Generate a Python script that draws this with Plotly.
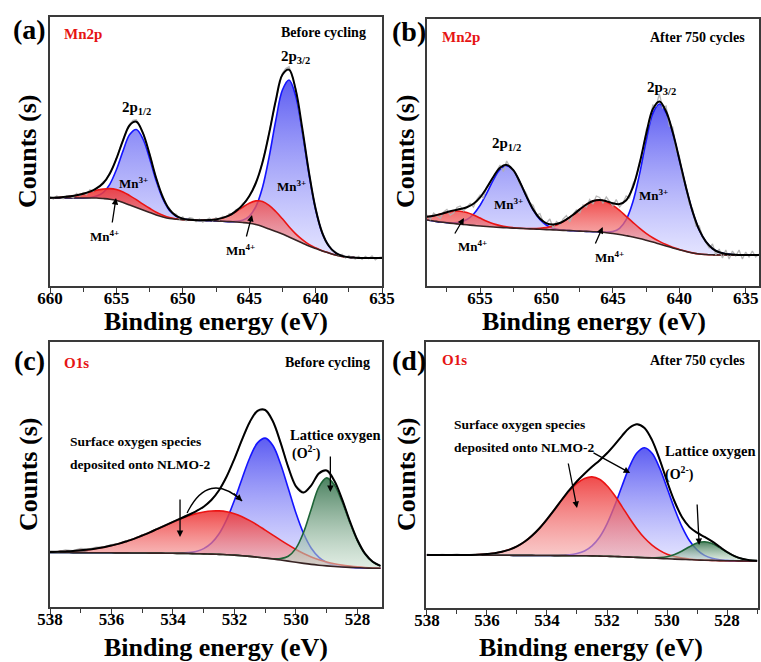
import plotly.graph_objects as go

FONT = "Liberation Serif"
FIG_W, FIG_H = 761, 662

# ---------------- Panel (a): Mn2p before cycling ----------------
E_A = [660.0, 659.5, 659.0, 658.5, 658.0, 657.5, 657.0, 656.5, 656.0, 655.5,
       655.0, 654.5, 654.0, 653.5, 653.0, 652.5, 652.0, 651.5, 651.0, 650.5,
       650.0, 649.5, 649.0, 648.5, 648.0, 647.5, 647.0, 646.5, 646.0, 645.5,
       645.0, 644.5, 644.0, 643.5, 643.0, 642.5, 642.0, 641.5, 641.0, 640.5,
       640.0, 639.5, 639.0, 638.5, 638.0, 637.5, 637.0, 636.5, 636.0, 635.5, 635.0]
BG_A = [88, 88, 88, 88, 88, 88, 88, 88, 87.5, 86.8, 85.5, 83.5, 81, 78.5, 76, 73.5,
        71, 69, 67.5, 66.7, 66.2, 66, 65.8, 65.5, 65.3, 65, 64.7, 64.4, 64, 63.5,
        62.8, 61.5, 59.5, 57, 54.5, 52, 49, 46, 43, 40, 37.5, 35, 33, 31, 29.5,
        28.7, 28.3, 28, 28, 28, 28]
MN3_A = [0, 0, 0, 0, 0, 0, 0.5, 1.9, 5.9, 14.9, 30.8, 51.6, 70.4, 78, 71, 54, 34,
         18, 8, 3, 1, 0.3, 0, 0, 0, 0, 0, 0, 0.6, 2.2, 6.9, 17.9, 39, 72, 111, 144,
         157, 144, 111, 72, 39, 17.9, 6.9, 2.2, 0.6, 0, 0, 0, 0, 0, 0]
MN4_A = [0.2, 0.5, 0.9, 1.7, 2.7, 4.2, 5.9, 7.8, 9.4, 10.6, 11, 10.6, 9.4, 7.8, 5.9,
         4.2, 2.7, 1.7, 0.9, 0.5, 0.2, 0.1, 0, 0.3, 0.7, 1.6, 3.4, 6.2, 10.3, 15.2,
         20, 23.6, 25, 23.6, 20, 15.2, 10.3, 6.2, 3.4, 1.6, 0.7, 0.3, 0.1, 0, 0, 0,
         0, 0, 0, 0, 0]
# raw spectrum, sampled every 0.25 eV from 660 to 635
E_RAW_A = [660.0, 659.75, 659.5, 659.25, 659.0, 658.75, 658.5, 658.25, 658.0, 657.75,
           657.5, 657.25, 657.0, 656.75, 656.5, 656.25, 656.0, 655.75, 655.5, 655.25,
           655.0, 654.75, 654.5, 654.25, 654.0, 653.75, 653.5, 653.25, 653.0, 652.75,
           652.5, 652.25, 652.0, 651.75, 651.5, 651.25, 651.0, 650.75, 650.5, 650.25,
           650.0, 649.75, 649.5, 649.25, 649.0, 648.75, 648.5, 648.25, 648.0, 647.75,
           647.5, 647.25, 647.0, 646.75, 646.5, 646.25, 646.0, 645.75, 645.5, 645.25,
           645.0, 644.75, 644.5, 644.25, 644.0, 643.75, 643.5, 643.25, 643.0, 642.75,
           642.5, 642.25, 642.0, 641.75, 641.5, 641.25, 641.0, 640.75, 640.5, 640.25,
           640.0, 639.75, 639.5, 639.25, 639.0, 638.75, 638.5, 638.25, 638.0, 637.75,
           637.5, 637.25, 637.0, 636.75, 636.5, 636.25, 636.0, 635.75, 635.5, 635.25, 635.0]
RAW_A = [89.5, 86.9, 90.1, 88.6, 87.2, 90.4, 89.8, 88.1, 92.6, 90.1,
         93.5, 91.4, 96.1, 94.8, 98.2, 100.3, 104.2, 106.1, 113.5, 119.0,
         128.6, 136.2, 146.6, 154.8, 161.9, 165.6, 166.2, 160.3, 153.6, 142.0,
         132.5, 119.1, 108.6, 96.7, 89.9, 80.8, 77.8, 71.6, 71.9, 67.2,
         69.1, 65.1, 68.3, 67.6, 64.4, 66.9, 63.9, 66.3, 67.9, 64.8,
         68.4, 66.0, 69.8, 68.0, 72.4, 71.3, 76.5, 76.9, 82.4, 84.2,
         90.6, 95.4, 104.1, 111.7, 124.5, 137.6, 153.8, 169.1, 186.6, 200.5,
         212.8, 217.4, 219.2, 209.6, 197.5, 177.4, 158.6, 134.8, 114.5, 93.6,
         78.4, 63.1, 54.6, 44.6, 41.4, 35.1, 34.5, 30.2, 31.6, 27.9,
         30.4, 28.1, 26.9, 29.6, 26.6, 29.7, 27.4, 30.1, 26.2, 28.5, 29.2]

# ---------------- Panel (b): Mn2p after 750 cycles ----------------
E_B = [659.0, 658.5, 658.0, 657.5, 657.0, 656.5, 656.0, 655.5, 655.0, 654.5,
       654.0, 653.5, 653.0, 652.5, 652.0, 651.5, 651.0, 650.5, 650.0, 649.5,
       649.0, 648.5, 648.0, 647.5, 647.0, 646.5, 646.0, 645.5, 645.0, 644.5,
       644.0, 643.5, 643.0, 642.5, 642.0, 641.5, 641.0, 640.5, 640.0, 639.5,
       639.0, 638.5, 638.0, 637.5, 637.0, 636.5, 636.0, 635.5, 635.0, 634.5, 634.0]
BG_B = [66, 65, 64, 63.2, 62.5, 61.8, 61.2, 60.6, 60, 59.5, 59, 58.6, 58.2, 57.9,
        57.6, 57.3, 57, 56.7, 56.4, 56.1, 55.8, 55.5, 55.2, 54.9, 54.6, 54.3, 54,
        53.3, 52.5, 51.5, 50.3, 49, 47.5, 45.8, 44, 42, 40, 38, 36.2, 34.5, 33, 32,
        31.5, 31.2, 31, 31, 31, 31, 31, 31, 31]
MN3_B = [0, 0, 0, 0.2, 0.8, 2.2, 5.3, 11.2, 20.7, 33.4, 47.1, 57.9, 62, 57.6, 46.1,
         31.9, 19, 9.8, 4.3, 1.7, 0.5, 0.2, 0, 0, 0, 0, 0.1, 0.6, 2, 6.2, 16, 34.9,
         64.1, 99, 128.4, 140, 133.3, 115.2, 90.2, 64.1, 41.3, 24.1, 12.8, 6.2, 2.7,
         1.1, 0.4, 0.1, 0, 0, 0]
MN4_B = [3.2, 5.3, 7.9, 10.4, 12.3, 13, 12.3, 10.4, 7.9, 5.3, 3.2, 1.8, 0.9, 0.4,
         0.1, 0.2, 0.4, 1, 2, 3.8, 6.7, 10.9, 16, 21.7, 26.9, 30.7, 32, 31, 28.2,
         24.2, 19.4, 14.7, 10.4, 6.9, 4.3, 2.6, 1.4, 0.7, 0.4, 0.2, 0.1, 0, 0, 0, 0,
         0, 0, 0, 0, 0, 0]
E_RAW_B = [659.0, 658.75, 658.5, 658.25, 658.0, 657.75, 657.5, 657.25, 657.0, 656.75,
           656.5, 656.25, 656.0, 655.75, 655.5, 655.25, 655.0, 654.75, 654.5, 654.25,
           654.0, 653.75, 653.5, 653.25, 653.0, 652.75, 652.5, 652.25, 652.0, 651.75,
           651.5, 651.25, 651.0, 650.75, 650.5, 650.25, 650.0, 649.75, 649.5, 649.25,
           649.0, 648.75, 648.5, 648.25, 648.0, 647.75, 647.5, 647.25, 647.0, 646.75,
           646.5, 646.25, 646.0, 645.75, 645.5, 645.25, 645.0, 644.75, 644.5, 644.25,
           644.0, 643.75, 643.5, 643.25, 643.0, 642.75, 642.5, 642.25, 642.0, 641.75,
           641.5, 641.25, 641.0, 640.75, 640.5, 640.25, 640.0, 639.75, 639.5, 639.25,
           639.0, 638.75, 638.5, 638.25, 638.0, 637.75, 637.5, 637.25, 637.0, 636.75,
           636.5, 636.25, 636.0, 635.75, 635.5, 635.25, 635.0, 634.75, 634.5, 634.25, 634.0]
RAW_B = [71, 66.5, 73, 70, 67.5, 74, 76.5, 71, 73, 78.5,
         80, 75, 79, 82.5, 79, 86.5, 91, 88, 99.5, 103,
         109, 115, 121, 114.5, 125, 119, 115.5, 111, 101, 97.5,
         92, 83, 80.5, 71, 72.5, 64, 63, 67, 58, 64.5,
         61.5, 67, 70.5, 64, 72, 76, 73, 81, 79, 86.5,
         82, 90, 88.5, 83, 89, 84, 80, 86.5, 79, 83,
         90, 88, 102, 108, 124, 134, 156, 163, 181, 180,
         192, 178, 180, 160, 159, 136, 130, 108, 101, 82,
         77, 60, 60, 49, 44, 38, 42, 31, 37, 28,
         36, 27, 35, 30, 36, 27, 34, 29, 35, 29, 32]

# ---------------- Panel (c): O1s before cycling ----------------
E_C = [538.0, 537.75, 537.5, 537.25, 537.0, 536.75, 536.5, 536.25, 536.0, 535.75,
       535.5, 535.25, 535.0, 534.75, 534.5, 534.25, 534.0, 533.75, 533.5, 533.25,
       533.0, 532.75, 532.5, 532.25, 532.0, 531.75, 531.5, 531.25, 531.0, 530.75,
       530.5, 530.25, 530.0, 529.75, 529.5, 529.25, 529.0, 528.75, 528.5, 528.25,
       528.0, 527.75, 527.5, 527.25]
BG_C = [54.5, 54.5, 54.5, 54.4, 54.4, 54.3, 54.3, 54.2, 54.2, 54.1, 54.1, 54, 54,
        53.9, 53.9, 53.8, 53.7, 53.6, 53.5, 53.3, 53.1, 52.9, 52.6, 52.3, 51.9, 51.3,
        50.6, 49.8, 48.9, 48, 47, 45.9, 44.7, 43.6, 42.6, 41.8, 41.1, 40.5, 40, 39.6,
        39.3, 39, 38.8, 38.7]
SURF1_C = [0.5, 0.8, 1.1, 1.6, 2.3, 3.1, 4.2, 5.6, 7.3, 9.3, 11.7, 14.4, 17.5, 20.8,
           24.3, 27.8, 31.3, 34.6, 37.6, 40.1, 41.9, 43.1, 43.5, 43.0, 41.4, 39.0,
           35.8, 32.1, 28.0, 23.9, 19.9, 16.2, 12.8, 9.9, 7.5, 5.5, 4.0, 2.8, 1.9,
           1.3, 0.8, 0.5, 0.3, 0.2]
SURF2_C = [0, 0, 0, 0, 0, 0, 0, 0, 0, 0, 0, 0, 0, 0, 0, 0, 0.1, 0.3, 0.9, 2.3, 5.3,
           11.0, 20.7, 35.4, 54.9, 77.3, 98.7, 114.3, 120, 113.5, 96.1, 72.8, 49.3,
           29.9, 16.2, 7.9, 3.4, 1.3, 0.5, 0.1, 0, 0, 0, 0]
LATT_C = [0, 0, 0, 0, 0, 0, 0, 0, 0, 0, 0, 0, 0, 0, 0, 0, 0, 0, 0, 0, 0, 0, 0, 0, 0,
          0, 0, 0, 0.1, 0.3, 1.4, 4.9, 13.9, 31.1, 55.4, 78.4, 88, 81.7, 65.5, 45.2,
          26.9, 13.8, 6.1, 2.3]
RAW_C = [56.2, 55, 57.1, 56.3, 58.6, 57.9, 59.8, 60.2, 62.4, 63.6, 66.5, 68.6, 72,
         74.8, 78.6, 81.7, 85.4, 88.6, 92.3, 95.8, 100.6, 107.2, 117, 130.5, 148.4,
         167.5, 185.3, 196, 197.2, 185.5, 164.6, 139.7, 120.9, 114.4, 121.9, 133.5,
         136.7, 126.2, 108.1, 86.1, 67.2, 53.2, 45.4, 41.3]

# ---------------- Panel (d): O1s after 750 cycles ----------------
E_D = [538.0, 537.75, 537.5, 537.25, 537.0, 536.75, 536.5, 536.25, 536.0, 535.75,
       535.5, 535.25, 535.0, 534.75, 534.5, 534.25, 534.0, 533.75, 533.5, 533.25,
       533.0, 532.75, 532.5, 532.25, 532.0, 531.75, 531.5, 531.25, 531.0, 530.75,
       530.5, 530.25, 530.0, 529.75, 529.5, 529.25, 529.0, 528.75, 528.5, 528.25,
       528.0, 527.75, 527.5, 527.25, 527.0]
BG_D = [53, 53, 53, 52.9, 52.9, 52.9, 52.8, 52.8, 52.8, 52.7, 52.7, 52.7, 52.6, 52.6,
        52.6, 52.5, 52.5, 52.4, 52.4, 52.3, 52.3, 52.2, 52.1, 51.9, 51.7, 51.5, 51.2,
        50.9, 50.6, 50.3, 50, 49.6, 49.2, 48.9, 48.6, 48.3, 48, 47.8, 47.6, 47.4,
        47.3, 47.2, 47.1, 47, 47]
SURF1_D = [0, 0, 0, 0, 0.1, 0.2, 0.3, 0.6, 1.1, 2, 3.5, 5.7, 9, 13.6, 19.7, 27.3,
           36.2, 45.9, 55.8, 65, 72.4, 77.3, 79, 76.8, 70.5, 61.2, 50.2, 38.9, 28.5,
           19.7, 12.9, 8, 4.6, 2.6, 1.3, 0.7, 0.3, 0.1, 0, 0, 0, 0, 0, 0, 0]
SURF2_D = [0, 0, 0, 0, 0, 0, 0, 0, 0, 0, 0, 0, 0, 0, 0, 0, 0, 0.1, 0.3, 0.8, 2.1,
           4.8, 10.1, 18.9, 32.5, 50.4, 70.8, 90.5, 104.7, 110, 104.7, 90.5, 70.8,
           50.4, 32.5, 18.9, 10.1, 4.8, 2.1, 0.8, 0.3, 0.1, 0, 0, 0]
LATT_D = [0, 0, 0, 0, 0, 0, 0, 0, 0, 0, 0, 0, 0, 0, 0, 0, 0, 0, 0, 0, 0, 0, 0, 0, 0,
          0, 0, 0, 0, 0.1, 0.3, 0.8, 2.1, 4.6, 8.4, 13, 16.9, 18.4, 16.9, 13, 8.4,
          4.6, 2.1, 0.8, 0.3]
RAW_D = [53.8, 52.6, 53.5, 53.2, 53.9, 52.9, 53.6, 53.2, 54.3, 54.5, 56.6, 58.2,
         61.9, 66, 72.6, 79.6, 88.9, 98.2, 108.7, 118, 127, 134.2, 141.4, 147.5,
         154.9, 163, 172.4, 180.2, 184, 180, 168.1, 148.8, 126.9, 106.4, 91, 80.8,
         75.5, 71, 66.8, 61.1, 56.2, 51.8, 49.4, 47.7, 47.6]

# ---------------- styles ----------------
STY = {
    "blue": ("rgb(20,20,255)", [[0, "rgba(205,205,255,0.55)"], [1, "rgba(70,70,240,0.88)"]]),
    "red": ("rgb(235,20,20)", [[0, "rgba(245,175,175,0.6)"], [1, "rgba(238,50,50,0.88)"]]),
    "green": ("rgb(30,100,55)", [[0, "rgba(200,222,205,0.55)"], [1, "rgba(55,115,78,0.9)"]]),
}

PANELS = [
    dict(k="", E=E_A, bg=BG_A, comps=[(MN3_A, "blue"), (MN4_A, "red")], rawE=E_RAW_A, raw=RAW_A,
         xd=(50, 382), yd=(17, 286), xr=(660, 635), yr=(0, 269), dt=5, mdt=2.5),
    dict(k="2", E=E_B, bg=BG_B, comps=[(MN3_B, "blue"), (MN4_B, "red")], rawE=E_RAW_B, raw=RAW_B,
         xd=(427, 759), yd=(19, 286), xr=(659, 634), yr=(0, 267), dt=5, mdt=2.5),
    dict(k="3", E=E_C, bg=BG_C, comps=[(SURF2_C, "blue"), (SURF1_C, "red"), (LATT_C, "green")],
         rawE=E_C, raw=RAW_C, xd=(50, 382), yd=(342, 607), xr=(538, 527.2), yr=(0, 265), dt=2, mdt=1),
    dict(k="4", E=E_D, bg=BG_D, comps=[(SURF2_D, "blue"), (SURF1_D, "red"), (LATT_D, "green")],
         rawE=E_D, raw=RAW_D, xd=(426, 758), yd=(342, 608), xr=(538.03, 526.97), yr=(0, 266), dt=2, mdt=1),
]

fig = go.Figure()
layout_axes = {}
for p in PANELS:
    n = len(p["E"])
    assert len(p["bg"]) == n, p["k"]
    assert len(p["raw"]) == len(p["rawE"]), p["k"]
    for c, _ in p["comps"]:
        assert len(c) == n, p["k"]
    xa, ya = "x" + p["k"], "y" + p["k"]
    common = dict(xaxis=xa, yaxis=ya, showlegend=False, hoverinfo="skip")
    for vals, st in p["comps"]:
        lc, cs = STY[st]
        top = [b + v for b, v in zip(p["bg"], vals)]
        fig.add_trace(go.Scatter(x=p["E"], y=p["bg"], mode="lines",
                                 line=dict(width=0, shape="spline"), **common))
        fig.add_trace(go.Scatter(x=p["E"], y=top, mode="lines",
                                 line=dict(color=lc, width=1.6, shape="spline"),
                                 fill="tonexty",
                                 fillgradient=dict(type="vertical", colorscale=cs),
                                 **common))
    fig.add_trace(go.Scatter(x=p["E"], y=p["bg"], mode="lines",
                             line=dict(color="rgb(55,35,35)", width=1.6, shape="spline"), **common))
    fig.add_trace(go.Scatter(x=p["rawE"], y=p["raw"], mode="lines",
                             line=dict(color="rgba(175,175,175,0.9)", width=1.3), **common))
    env = list(p["bg"])
    for vals, _ in p["comps"]:
        env = [e + v for e, v in zip(env, vals)]
    fig.add_trace(go.Scatter(x=p["E"], y=env, mode="lines",
                             line=dict(color="black", width=2, shape="spline"), **common))

    x0, x1 = p["xd"]
    y0, y1 = p["yd"]
    layout_axes["xaxis" + p["k"]] = dict(
        domain=[x0 / FIG_W, x1 / FIG_W], anchor=ya, range=list(p["xr"]),
        automargin=False,
        showline=True, mirror=True, linecolor="#3a3a3a", linewidth=1.5,
        ticks="outside", ticklen=5, tickwidth=1.3, tickcolor="#3a3a3a",
        tick0=0, dtick=p["dt"], showgrid=False, zeroline=False,
        ticklabelstandoff=-9,
        tickfont=dict(family=FONT, size=17, color="black", weight="bold"),
        minor=dict(tick0=0, dtick=p["mdt"], ticks="outside", ticklen=4,
                   tickwidth=1.3, tickcolor="#3a3a3a", showgrid=False),
    )
    layout_axes["yaxis" + p["k"]] = dict(
        domain=[1 - y1 / FIG_H, 1 - y0 / FIG_H], anchor=xa, range=list(p["yr"]),
        automargin=False,
        showline=True, mirror=True, linecolor="#3a3a3a", linewidth=1.5,
        showticklabels=False, ticks="", showgrid=False, zeroline=False,
    )

ann = []


def txt(s, x, y, ref="paper", size=14, color="black", xanchor="center", angle=0):
    xr, yr = ("paper", "paper") if ref == "paper" else ("x" + ref, "y" + ref)
    if ref == "paper":
        x, y = x / FIG_W, 1 - y / FIG_H
    ann.append(dict(text=s, x=x, y=y, xref=xr, yref=yr, showarrow=False,
                    xanchor=xanchor, yanchor="middle", textangle=angle,
                    font=dict(family=FONT, size=size, color=color, weight="bold")))


def arrow(k, head, tail):
    ann.append(dict(text="", x=head[0], y=head[1], ax=tail[0], ay=tail[1],
                    xref="x" + k, yref="y" + k, axref="x" + k, ayref="y" + k,
                    showarrow=True, arrowhead=2, arrowsize=1, arrowwidth=1.3,
                    arrowcolor="black", standoff=0, startstandoff=0))


for lab, (px, py) in zip(["(a)", "(b)", "(c)", "(d)"], [(29, 30), (409, 31), (29, 360), (409, 360)]):
    txt(lab, px, py, size=28)
for px, py in [(216, 321), (594, 321), (216, 647), (591, 647)]:
    txt("Binding energy (eV)", px, py, size=26)
for px, py in [(28, 152), (406, 152), (28, 475), (406, 475)]:
    txt("Counts (s)", px, py, size=26, angle=-90)

txt("Mn2p", 62, 34, size=15, color="rgb(230,20,20)", xanchor="left")
txt("Before cycling", 368, 33, size=14, xanchor="right")
txt("Mn2p", 440, 37, size=15, color="rgb(230,20,20)", xanchor="left")
txt("After 750 cycles", 747, 37, size=14, xanchor="right")
txt("O1s", 62, 363, size=15, color="rgb(230,20,20)", xanchor="left")
txt("Before cycling", 372, 362, size=14, xanchor="right")
txt("O1s", 440, 360, size=15, color="rgb(230,20,20)", xanchor="left")
txt("After 750 cycles", 747, 360, size=14, xanchor="right")

# panel (a)
txt("2p<sub>1/2</sub>", 653.45, 178, ref="", size=15)
txt("2p<sub>3/2</sub>", 641.55, 229, ref="", size=15)
txt("Mn<sup>3+</sup>", 653.75, 103, ref="", size=13)
txt("Mn<sup>3+</sup>", 641.85, 100, ref="", size=13)
txt("Mn<sup>4+</sup>", 655.86, 50, ref="", size=13)
txt("Mn<sup>4+</sup>", 645.69, 36, ref="", size=13)
arrow("", (655.03, 88), (655.33, 62))
arrow("", (644.79, 71), (645.24, 48))

# panel (b)
txt("2p<sub>1/2</sub>", 652.98, 142, ref="2", size=15)
txt("2p<sub>3/2</sub>", 641.33, 198, ref="2", size=15)
txt("Mn<sup>3+</sup>", 652.9, 82, ref="2", size=13)
txt("Mn<sup>3+</sup>", 641.93, 91, ref="2", size=13)
txt("Mn<sup>4+</sup>", 655.54, 40, ref="2", size=13)
txt("Mn<sup>4+</sup>", 645.24, 29, ref="2", size=13)
arrow("2", (656.22, 68), (656.97, 51))
arrow("2", (645.77, 59), (646.37, 41))

# panel (c)
txt("Surface oxygen species", 537.41, 166, ref="3", size=13.5, xanchor="left")
txt("deposited onto NLMO-2", 537.41, 143, ref="3", size=13.5, xanchor="left")
txt("Lattice oxygen", 530.25, 172, ref="3", size=14.5, xanchor="left")
txt("(O<sup>2-</sup>)", 529.66, 155, ref="3", size=14)
arrow("3", (533.77, 70), (533.77, 109))
arrow("3", (531.75, 106), (532.07, 115))
arrow("3", (528.88, 115), (528.88, 152))

# panel (d)
txt("Surface oxygen species", 537.17, 184, ref="4", size=13.5, xanchor="left")
txt("deposited onto NLMO-2", 537.17, 161, ref="4", size=13.5, xanchor="left")
txt("Lattice oxygen", 530.13, 157, ref="4", size=14.5, xanchor="left")
txt("(O<sup>2-</sup>)", 530.13, 135, ref="4", size=14, xanchor="left")
arrow("4", (531.23, 135), (532.5, 156))
arrow("4", (533.0, 100), (533.3, 146))
arrow("4", (528.93, 63), (529.0, 105))

shapes = [dict(type="path", xref="x3", yref="y3",
               path="M 533.54,94 Q 532.85,137 531.75,106",
               line=dict(color="black", width=1.3))]

fig.update_layout(
    template="none",
    width=FIG_W, height=FIG_H, margin=dict(l=0, r=0, t=0, b=0, autoexpand=False),
    paper_bgcolor="white", plot_bgcolor="white",
    annotations=ann, shapes=shapes, **layout_axes,
)

fig.write_html("out.html")
